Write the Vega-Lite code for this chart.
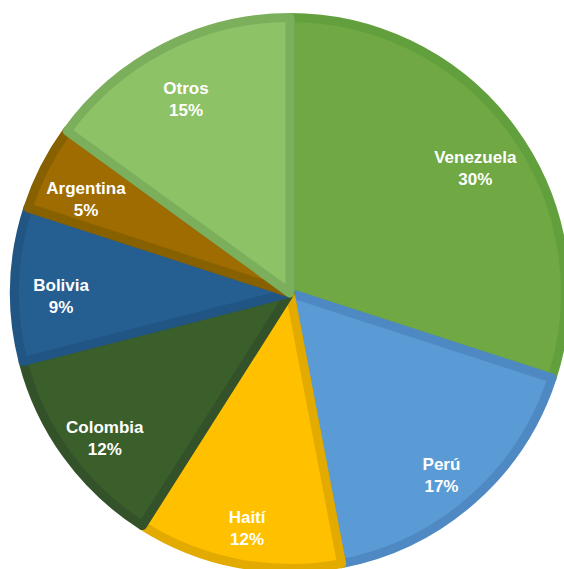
{
  "$schema": "https://vega.github.io/schema/vega-lite/v6.json",
  "width": 580,
  "height": 586,
  "autosize": "none",
  "padding": 0,
  "background": "white",
  "view": {"stroke": null},
  "data": {
    "values": [
      {"pais": "Venezuela", "pct": 30, "orden": 1, "etiqueta": "Venezuela\n30%"},
      {"pais": "Perú", "pct": 17, "orden": 2, "etiqueta": "Perú\n17%"},
      {"pais": "Haití", "pct": 12, "orden": 3, "etiqueta": "Haití\n12%"},
      {"pais": "Colombia", "pct": 12, "orden": 4, "etiqueta": "Colombia\n12%"},
      {"pais": "Bolivia", "pct": 9, "orden": 5, "etiqueta": "Bolivia\n9%"},
      {"pais": "Argentina", "pct": 5, "orden": 6, "etiqueta": "Argentina\n5%"},
      {"pais": "Otros", "pct": 15, "orden": 7, "etiqueta": "Otros\n15%"}
    ]
  },
  "encoding": {
    "theta": {"field": "pct", "type": "quantitative", "stack": true},
    "order": {"field": "orden", "type": "quantitative"}
  },
  "layer": [
    {
      "mark": {"type": "arc", "outerRadius": 275.5, "strokeWidth": 9, "strokeJoin": "round"},
      "encoding": {
        "fill": {
          "field": "pais", "type": "nominal", "legend": null,
          "scale": {
            "domain": ["Venezuela", "Perú", "Haití", "Colombia", "Bolivia", "Argentina", "Otros"],
            "range": ["#70A843", "#5B9BD5", "#FFC000", "#3B5F2B", "#255E91", "#9E6C00", "#8DC266"]
          }
        },
        "stroke": {
          "field": "pais", "type": "nominal", "legend": null,
          "scale": {
            "domain": ["Venezuela", "Perú", "Haití", "Colombia", "Bolivia", "Argentina", "Otros"],
            "range": ["#62A03D", "#4E89C3", "#E3AB00", "#33522A", "#215583", "#876000", "#7BAF5C"]
          }
        }
      }
    },
    {
      "mark": {
        "type": "text", "radius": 229, "font": "Liberation Sans", "fontWeight": "bold",
        "fontSize": 17, "fill": "white", "lineBreak": "\n", "lineHeight": 22, "baseline": "middle"
      },
      "encoding": {"text": {"field": "etiqueta", "type": "nominal"}}
    }
  ]
}
